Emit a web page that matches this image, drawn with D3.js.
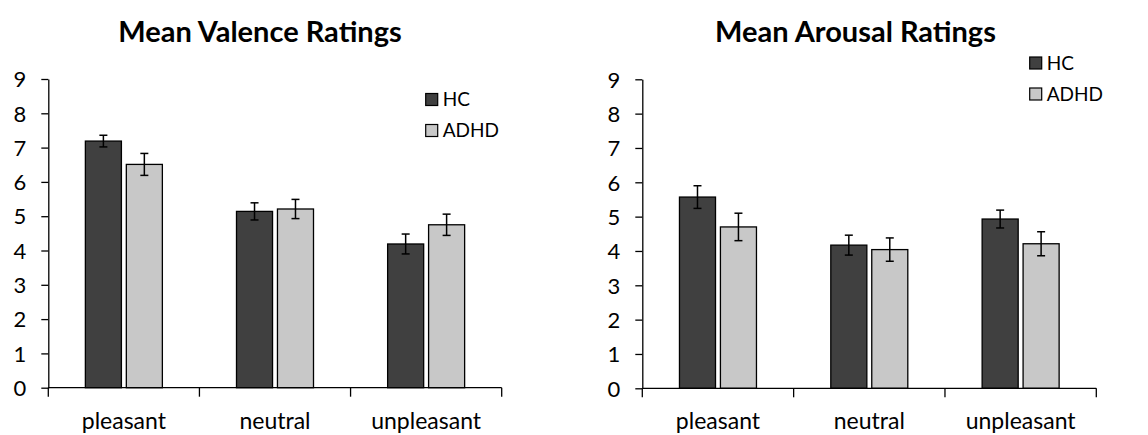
<!DOCTYPE html>
<html>
<head>
<meta charset="utf-8">
<script src="https://cdn.jsdelivr.net/npm/d3@7"></script>
<style>
  body { margin: 0; background: #fff; }
  text { font-family: Lato, "Noto Sans", sans-serif; fill: #000; }
</style>
</head>
<body>
<div id="chart"></div>
<script>
// data
var categories = ["pleasant", "neutral", "unpleasant"];
var groups = ["HC", "ADHD"];
var yTicks = [0, 1, 2, 3, 4, 5, 6, 7, 8, 9];

var valenceHC = [7.19, 5.14, 4.19];
var valenceADHD = [6.51, 5.21, 4.75];
var valenceHCErr = [0.17, 0.25, 0.29];
var valenceADHDErr = [0.32, 0.28, 0.31];

var arousalHC = [5.57, 4.17, 4.93];
var arousalADHD = [4.70, 4.04, 4.21];
var arousalHCErr = [0.33, 0.29, 0.26];
var arousalADHDErr = [0.40, 0.34, 0.35];

var colors = { HC: "#404040", ADHD: "#c8c8c8" };

var svg = d3.select("#chart")
  .append("svg")
  .attr("width", 1148)
  .attr("height", 435);

function drawPanel(p) {
  var x0 = d3.scaleBand()
    .domain(categories)
    .range([p.left, p.right]);

  var x1 = d3.scaleBand()
    .domain(groups)
    .range([0, 77])
    .paddingInner(0.12);

  var y = d3.scaleLinear()
    .domain([0, 9])
    .range([p.bottom, p.top]);

  var g = svg.append("g");

  // title
  g.append("text")
    .attr("x", p.titleX)
    .attr("y", 42)
    .attr("text-anchor", "middle")
    .style("font-weight", "bold")
    .style("font-size", "29px")
    .text(p.title);

  // bars
  var rows = categories.map(function(c, i) {
    return [
      { cat: c, grp: "HC", v: p.hc[i], e: p.hcErr[i] },
      { cat: c, grp: "ADHD", v: p.adhd[i], e: p.adhdErr[i] }
    ];
  });
  var flat = [].concat.apply([], rows);
  var off = (x0.bandwidth() - 77) / 2;

  g.selectAll("rect.bar")
    .data(flat)
    .enter()
    .append("rect")
    .attr("class", "bar")
    .attr("x", d => x0(d.cat) + off + x1(d.grp))
    .attr("y", d => y(d.v))
    .attr("width", x1.bandwidth())
    .attr("height", d => y(0) - y(d.v))
    .attr("fill", d => colors[d.grp])
    .attr("stroke", "#000")
    .attr("stroke-width", 1.3);

  // error bars
  var err = g.selectAll("g.err")
    .data(flat)
    .enter()
    .append("g")
    .attr("class", "err")
    .attr("transform", d => `translate(${x0(d.cat) + off + x1(d.grp) + x1.bandwidth() / 2},0)`);
  err.append("line")
    .attr("y1", d => y(d.v + d.e))
    .attr("y2", d => y(d.v - d.e))
    .attr("stroke", "#000").attr("stroke-width", 1.5);
  err.append("line")
    .attr("x1", -4).attr("x2", 4)
    .attr("y1", d => y(d.v + d.e)).attr("y2", d => y(d.v + d.e))
    .attr("stroke", "#000").attr("stroke-width", 1.5);
  err.append("line")
    .attr("x1", -4).attr("x2", 4)
    .attr("y1", d => y(d.v - d.e)).attr("y2", d => y(d.v - d.e))
    .attr("stroke", "#000").attr("stroke-width", 1.5);

  // y axis
  var leftAxis = d3.axisLeft(y)
    .tickValues(yTicks)
    .tickSize(7)
    .tickPadding(15)
    .tickSizeOuter(0);
  var ya = g.append("g")
    .attr("transform", `translate(${p.left},0)`)
    .call(leftAxis);
  ya.selectAll("text").style("font-size", "22px").attr("dy", "0.35em");

  // x axis: category ticks at band edges
  var xa = g.append("g");
  xa.append("line")
    .attr("x1", p.left).attr("x2", p.right)
    .attr("y1", y(0)).attr("y2", y(0));
  var edges = categories.map(c => x0(c)).concat([p.right]);
  xa.selectAll("line.edge")
    .data(edges)
    .enter()
    .append("line")
    .attr("class", "edge")
    .attr("x1", d => d).attr("x2", d => d)
    .attr("y1", y(0)).attr("y2", y(0) + 9);
  xa.selectAll("line").attr("stroke", "#000").attr("stroke-width", 1.3);
  ya.selectAll("line, path").attr("stroke", "#000").attr("stroke-width", 1.3);

  xa.selectAll("text")
    .data(categories)
    .enter()
    .append("text")
    .attr("x", d => x0(d) + x0.bandwidth() / 2)
    .attr("y", 429)
    .attr("text-anchor", "middle")
    .style("font-size", "23px")
    .text(d => d);

  // legend
  var lg = g.selectAll("g.legend")
    .data(groups)
    .enter()
    .append("g")
    .attr("class", "legend")
    .attr("transform", (d, i) => `translate(${p.legendX},${p.legendY + i * 31})`);
  lg.append("rect")
    .attr("width", 12).attr("height", 12)
    .attr("fill", d => colors[d])
    .attr("stroke", "#000").attr("stroke-width", 1.2);
  lg.append("text")
    .attr("x", 17).attr("y", 6)
    .attr("dy", "0.36em")
    .style("font-size", "19px")
    .text(d => d);
}

drawPanel({
  title: "Mean Valence Ratings", titleX: 260,
  left: 48.3, right: 501.7, top: 79, bottom: 387.7,
  hc: valenceHC, adhd: valenceADHD, hcErr: valenceHCErr, adhdErr: valenceADHDErr,
  legendX: 425.7, legendY: 93.5
});

drawPanel({
  title: "Mean Arousal Ratings", titleX: 855.5,
  left: 642.3, right: 1096.3, top: 79.3, bottom: 388.3,
  hc: arousalHC, adhd: arousalADHD, hcErr: arousalHCErr, adhdErr: arousalADHDErr,
  legendX: 1029.7, legendY: 57
});
</script>
</body>
</html>
